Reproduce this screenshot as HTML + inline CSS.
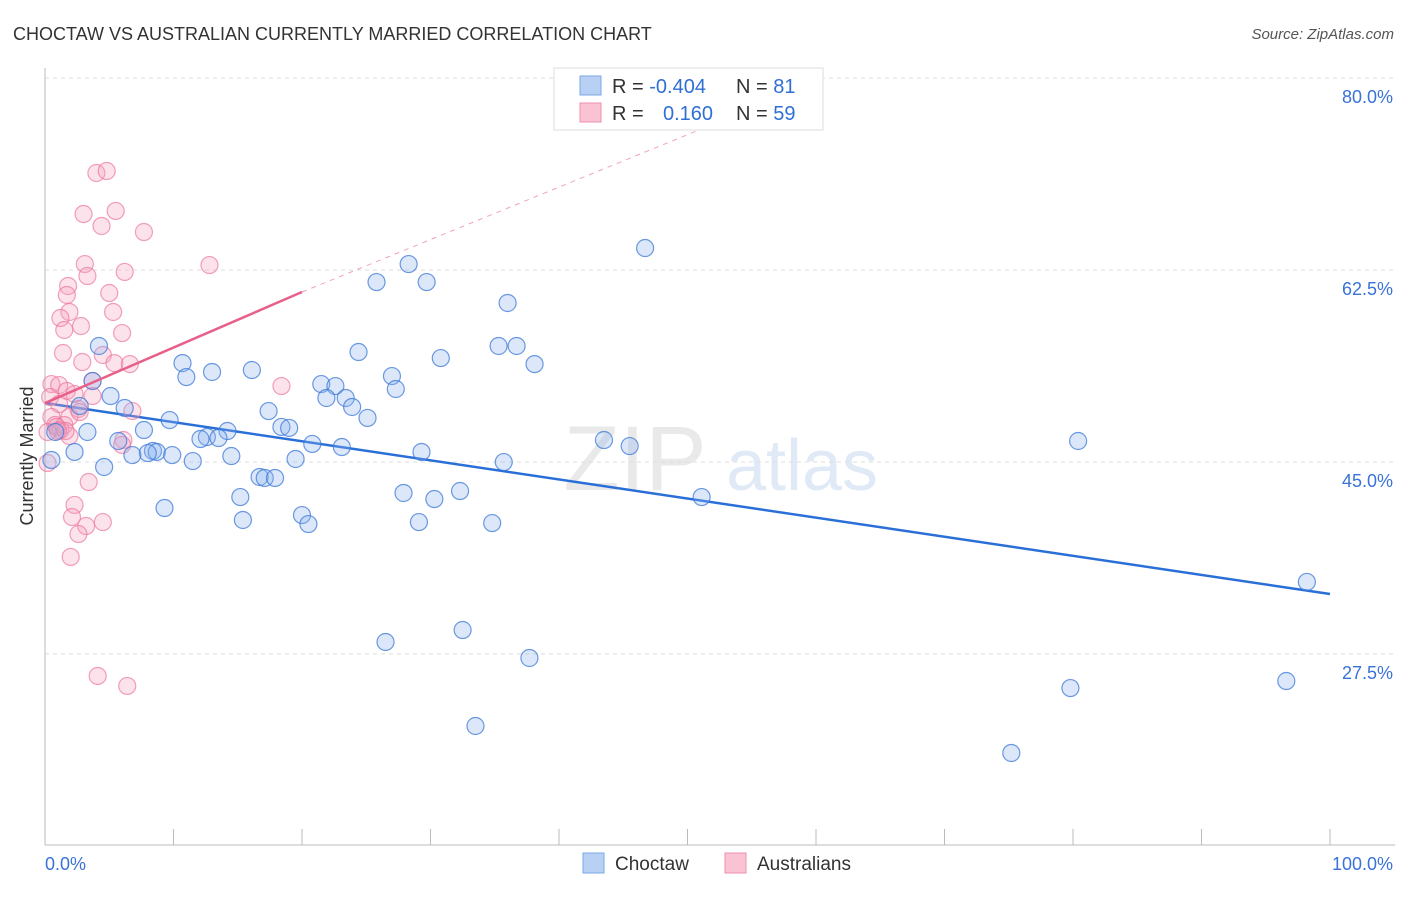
<!DOCTYPE html>
<html><head><meta charset="utf-8"><style>
body{margin:0;background:#fff;font-family:"Liberation Sans",sans-serif;}
svg text{font-family:"Liberation Sans",sans-serif;}
</style></head><body>
<svg id="chart" width="1406" height="892" viewBox="0 0 1406 892" xmlns="http://www.w3.org/2000/svg">
<text x="13" y="40" font-size="18" fill="#333">CHOCTAW VS AUSTRALIAN CURRENTLY MARRIED CORRELATION CHART</text>
<text x="1394" y="39" font-size="15" fill="#555" text-anchor="end" font-style="italic">Source: ZipAtlas.com</text>
<text transform="translate(33,456) rotate(-90)" font-size="18" fill="#333" text-anchor="middle">Currently Married</text>
<g opacity="0.18">
<text x="635" y="490" font-size="92" fill="#888" text-anchor="middle" font-family="Liberation Serif,serif">ZIP</text>
<text x="802" y="490" font-size="72" fill="#5b8fd6" text-anchor="middle">atlas</text>
</g>
<g id="grid"></g>
<g id="axes"></g>
<g id="marks"></g>
<g>
<rect x="554" y="68" width="269" height="62" fill="#fff" stroke="#ddd"/>
<rect x="580" y="76" width="21" height="19" fill="#b8d0f3" stroke="#7aa7e6"/>
<rect x="580" y="103" width="21" height="19" fill="#f9c3d3" stroke="#ee8fad"/>
<text x="612" y="93" font-size="20" fill="#333">R = <tspan fill="#2f6fd6">-0.404</tspan></text>
<text x="736" y="93" font-size="20" fill="#333">N = <tspan fill="#2f6fd6"> 81</tspan></text>
<text x="612" y="120" font-size="20" fill="#333">R = </text>
<text x="663" y="120" font-size="20" fill="#2f6fd6">0.160</text>
<text x="736" y="120" font-size="20" fill="#333">N = <tspan fill="#2f6fd6">59</tspan></text>
</g>
<g>
<rect x="583" y="853" width="21" height="20" fill="#b8d0f3" stroke="#7aa7e6"/>
<text x="615" y="870" font-size="19" fill="#333">Choctaw</text>
<rect x="725" y="853" width="21" height="20" fill="#f9c3d3" stroke="#ee8fad"/>
<text x="757" y="870" font-size="19" fill="#333">Australians</text>
</g>
</svg>
<script>
const yTicks=[80,62.5,45,27.5];
const yTickLabels=["80.0%","62.5%","45.0%","27.5%"];
const xEndLabels=["0.0%","100.0%"];
const choctawX=[46.7,28.3,25.8,29.7,36,4.2,24.4,35.3,36.7,30.8,38.1,10.7,13,16.1,11,27,3.7,21.5,22.6,27.3,5.1,21.9,23.4,6.2,23.9,2.7,17.4,9.7,25.1,18.4,19,7.7,3.3,14.2,12.6,12.1,13.5,5.7,43.5,45.5,80.4,20.8,23.1,2.3,8.4,8.7,8,6.8,9.9,29.3,14.5,11.5,19.5,35.7,4.6,16.7,17.1,17.9,27.9,32.3,15.2,30.3,51.1,9.3,20,15.4,20.5,29.1,34.8,98.2,32.5,26.5,37.7,79.8,96.6,33.5,75.2,0.8,0.5];
const choctawY=[64.5,63.04,61.4,61.4,59.49,55.57,55.02,55.57,55.57,54.47,53.92,54.01,53.2,53.38,52.74,52.83,52.38,52.1,51.92,51.65,51.01,50.83,50.83,49.92,50.01,50.1,49.64,48.82,49.01,48.19,48.1,47.91,47.73,47.82,47.27,47.09,47.18,46.91,47,46.45,46.91,46.64,46.36,45.91,46,45.91,45.81,45.63,45.63,45.91,45.54,45.08,45.27,44.99,44.54,43.63,43.54,43.54,42.17,42.35,41.8,41.62,41.8,40.8,40.16,39.71,39.34,39.52,39.43,34.06,29.68,28.59,27.13,24.39,25.03,20.93,18.47,47.73,45.18];
const austX=[4,4.8,3,5.5,4.4,7.7,12.8,3.1,6.2,1.8,3.3,1.7,5,1.9,5.3,1.2,2.8,1.5,6,1.4,4.5,2.9,5.4,6.6,0.5,1.1,3.7,1.7,2.3,18.4,0.4,3.7,1.1,2.6,6.8,1.9,0.5,0.8,1.5,1.2,1.9,6.1,0.9,6,3.4,2.3,2.1,4.5,3.2,2.6,2,4.1,6.4,0.2,1.6,0.2,1,2.7];
const austY=[71.34,71.52,67.6,67.88,66.51,65.96,62.95,63.04,62.32,61.04,61.95,60.22,60.4,58.67,58.67,58.12,57.39,57.03,56.75,54.93,54.75,54.11,54.01,53.92,52.1,52.01,52.38,51.47,51.19,51.92,50.92,51.01,50.28,49.83,49.64,49.1,49.1,48.37,48.37,47.91,47.36,47,48.19,46.55,43.17,41.08,39.98,39.52,39.16,38.43,36.34,25.49,24.58,44.9,47.82,47.73,47.82,49.55];
const X0=45,X1=1330,Y80=78,PX=10.97;
const xs=v=>X0+(X1-X0)*v/100;
const ys=v=>Y80+(80-v)*PX;
const NS="http://www.w3.org/2000/svg";
function mk(tag,attrs,parent){const e=document.createElementNS(NS,tag);for(const k in attrs)e.setAttribute(k,attrs[k]);parent.appendChild(e);return e;}
const grid=document.getElementById('grid'),axes=document.getElementById('axes'),marks=document.getElementById('marks');
yTicks.forEach((t,i)=>{
 const l=mk('line',{x1:45,x2:1395,y1:ys(t),y2:ys(t),stroke:'#ddd','stroke-dasharray':'4,4'},grid);
 
 
 const tx=mk('text',{x:1393,y:ys(t)+25,'font-size':18,fill:'#3a72d8','text-anchor':'end'},axes);
 tx.textContent=yTickLabels[i];
 
 
});
const ya=mk('line',{x1:45,x2:45,y1:68,y2:845,stroke:'#bbb'},axes);


const xa=mk('line',{x1:45,x2:1395,y1:845,y2:845,stroke:'#bbb'},axes);


for(let i=0;i<=10;i++){
 const t=mk('line',{x1:xs(i*10),x2:xs(i*10),y1:829,y2:845,stroke:'#bbb'},axes);
 
 
}
const xl0=mk('text',{x:45,y:870,'font-size':18,fill:'#3a72d8'},axes);xl0.textContent=xEndLabels[0];


const xl1=mk('text',{x:1393,y:870,'font-size':18,fill:'#3a72d8','text-anchor':'end'},axes);xl1.textContent=xEndLabels[1];


const bt=mk('line',{x1:xs(0),y1:ys(50.37),x2:xs(100),y2:ys(32.96),stroke:'#2a6fd8','stroke-width':2.5},marks);


const pd=mk('line',{x1:xs(20),y1:ys(60.49),x2:xs(51.4),y2:ys(75.5),stroke:'#f0a3bb','stroke-width':1,'stroke-dasharray':'5,5'},marks);


function dots(X,Y,fill,stroke,name){
 X.forEach((v,i)=>{
  const c=mk('circle',{cx:xs(v),cy:ys(Y[i]),r:8.5,fill:fill,stroke:stroke,'stroke-width':1.2},marks);
  
  
 });
}
dots(austX,austY,'rgba(246,160,188,0.3)','rgba(236,120,158,0.7)','australians-point');
dots(choctawX,choctawY,'rgba(140,180,240,0.3)','rgba(60,120,215,0.75)','choctaw-point');
const pt=mk('line',{x1:xs(0),y1:ys(50.37),x2:xs(20),y2:ys(60.49),stroke:'#e8608a','stroke-width':2.5},marks);


</script>
</body></html>
